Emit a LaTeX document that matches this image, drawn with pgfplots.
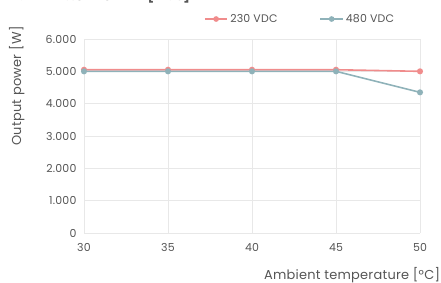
\documentclass[border=0pt]{standalone}
\usepackage{fontspec}
\setmainfont{Poppins}[LetterSpace=2]
\usepackage{pgfplots}
\pgfplotsset{compat=1.18}
\definecolor{cred}{HTML}{F08C8C}
\definecolor{cteal}{HTML}{8FB2B9}
\definecolor{cgrid}{HTML}{E8E8E8}
\definecolor{ctext}{HTML}{555555}
\begin{document}
\begin{tikzpicture}
\begin{axis}[
  scale only axis, width=336bp, height=194bp,
  xmin=30, xmax=50, ymin=0, ymax=6000,
  xtick={30,35,40,45,50}, ytick={0,1000,2000,3000,4000,5000,6000},
  grid=major, major grid style={cgrid, line width=0.6pt},
  axis line style={draw=none}, tick style={draw=none},
  /pgf/number format/.cd, 1000 sep={.}, assume math mode=true, /pgfplots/.cd,
  ticklabel style={font=\fontsize{11}{12}\selectfont, text=ctext},
  yticklabel style={xshift=-4bp},
  xticklabel style={yshift=-7bp},
  xlabel={Ambient temperature [°C]},
  ylabel={Output power [W]},
  label style={font=\fontsize{13}{15}\selectfont, text=ctext},
  xlabel style={at={(axis description cs:1.07,-0.216)}, anchor=east},
  ylabel style={at={(axis description cs:-0.2,0.757)}, anchor=center},
  legend columns=2,
  legend style={at={(axis description cs:0.643,1.103)}, anchor=center, draw=none, fill=none,
    font=\fontsize{11}{12}\selectfont, text=ctext, /tikz/every even column/.append style={column sep=40bp}},
  legend image code/.code={\draw[#1] (0cm,0cm) -- (0.8cm,0cm); \fill[#1] (0.4cm,0cm) circle (2bp);},
  clip=false,
]
\addplot[cred, line width=1.6pt, mark=*, mark size=2.2bp] coordinates {(30,5050) (35,5050) (40,5050) (45,5050) (50,5000)};
\addlegendentry{230 VDC}
\addplot[cteal, line width=1.6pt, mark=*, mark size=2.2bp] coordinates {(30,5000) (35,5000) (40,5000) (45,5000) (50,4350)};
\addlegendentry{480 VDC}
\end{axis}
\node[anchor=west, font=\bfseries\fontsize{13}{15}\selectfont, text=ctext] at (-71bp,237bp) {GEN24 3.8 208-240 [Plus]};
\pgfresetboundingbox
\useasboundingbox (-84bp,-50bp) rectangle (357bp,233bp);
\end{tikzpicture}
\end{document}
